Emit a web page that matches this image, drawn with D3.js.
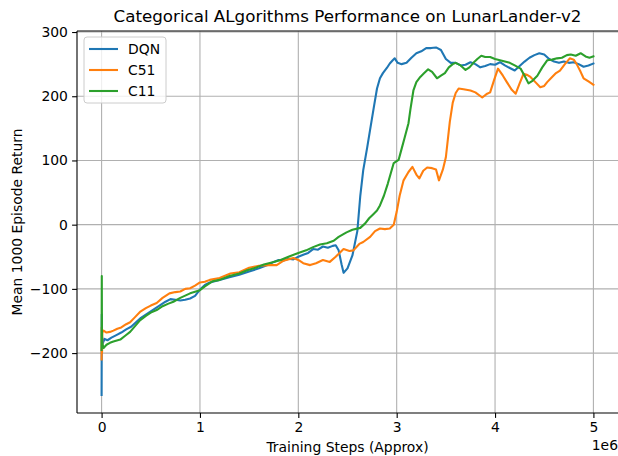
<!DOCTYPE html>
<html><head><meta charset="utf-8">
<script src="https://cdn.jsdelivr.net/npm/d3@7"></script>
<style>
body{margin:0;background:#fff;}
svg{display:block;font-family:"DejaVu Sans",sans-serif;}
</style></head><body>
<script>
const title = "Categorical ALgorithms Performance on LunarLander-v2";
const xLabel = "Training Steps (Approx)";
const yLabel = "Mean 1000 Episode Return";
const xTicks = [0,1,2,3,4,5];
const yTicks = [-200,-100,0,100,200,300];
const seriesNames = ["DQN","C51","C11"];
const seriesColors = ["#1f77b4","#ff7f0e","#2ca02c"];

const dqnSteps = [0,0.002,0.004,0.006,0.01,0.03,0.06,0.1,0.15,0.2,0.25,0.3,0.35,0.4,0.45,0.5,0.55,0.6,0.65,0.7,0.75,0.8,0.85,0.9,0.95,1.0,1.05,1.1,1.15,1.2,1.3,1.4,1.5,1.6,1.7,1.75,1.8,1.85,1.9,1.95,2.0,2.05,2.1,2.15,2.2,2.25,2.3,2.35,2.38,2.41,2.44,2.46,2.5,2.55,2.6,2.63,2.66,2.7,2.73,2.77,2.8,2.83,2.86,2.9,2.93,2.96,2.98,3.01,3.05,3.1,3.15,3.2,3.25,3.3,3.35,3.4,3.45,3.5,3.55,3.6,3.65,3.7,3.75,3.8,3.85,3.9,3.95,4.0,4.05,4.1,4.15,4.2,4.25,4.3,4.35,4.4,4.45,4.5,4.55,4.6,4.65,4.7,4.75,4.8,4.85,4.9,4.95,5.0];
const dqnValues = [-265,-140,-200,-175,-185,-178,-180,-176,-172,-168,-163,-159,-152,-145,-140,-135,-130,-125,-120,-116,-117,-118,-117,-115,-111,-101,-94,-90,-88,-86,-82,-78,-73,-68,-62,-58,-55,-56,-53,-54,-50,-47,-44,-38,-39,-34,-36,-33,-32,-40,-62,-75,-68,-48,-10,45,85,120,148,185,212,228,236,244,251,256,259,252,250,252,260,267,270,275,275,276,272,258,252,252,248,249,253,250,245,247,250,249,253,248,244,240,247,254,260,264,267,265,258,254,252,254,252,253,250,246,248,251];

const c51Steps = [0,0.002,0.004,0.008,0.02,0.05,0.085,0.12,0.16,0.2,0.25,0.29,0.34,0.39,0.45,0.5,0.56,0.62,0.69,0.75,0.8,0.85,0.9,0.95,1.0,1.05,1.1,1.2,1.31,1.4,1.5,1.6,1.7,1.78,1.85,1.95,2.0,2.05,2.12,2.18,2.25,2.32,2.38,2.46,2.52,2.56,2.62,2.66,2.73,2.78,2.83,2.88,2.93,2.97,3.0,3.03,3.07,3.12,3.16,3.2,3.23,3.27,3.31,3.36,3.4,3.43,3.47,3.5,3.54,3.57,3.6,3.63,3.68,3.75,3.8,3.87,3.92,3.95,3.99,4.03,4.08,4.12,4.17,4.21,4.25,4.29,4.33,4.36,4.41,4.46,4.5,4.53,4.58,4.62,4.66,4.71,4.76,4.8,4.83,4.87,4.9,4.95,5.0];
const c51Values = [-210,-160,-200,-168,-165,-168,-167,-165,-162,-160,-155,-152,-144,-136,-130,-126,-122,-114,-107,-105,-104,-100,-99,-95,-90,-89,-86,-83,-76,-74,-67,-64,-63,-63,-56,-52,-55,-60,-63,-60,-55,-58,-50,-38,-41,-40,-30,-27,-19,-10,-6,-7,-6,0,20,45,69,82,90,78,72,84,89,88,86,69,86,105,160,190,205,212,211,209,206,198,204,206,225,243,232,222,210,204,220,235,233,230,222,214,216,222,230,236,240,250,259,257,250,238,228,223,218];

const c11Steps = [0,0.002,0.004,0.008,0.02,0.05,0.085,0.12,0.19,0.24,0.29,0.34,0.39,0.45,0.5,0.56,0.62,0.68,0.73,0.8,0.9,1.0,1.05,1.1,1.13,1.2,1.3,1.4,1.48,1.55,1.65,1.75,1.82,1.9,2.0,2.08,2.15,2.22,2.29,2.36,2.41,2.49,2.55,2.63,2.68,2.72,2.76,2.8,2.83,2.87,2.91,2.94,2.97,3.0,3.02,3.05,3.08,3.12,3.14,3.17,3.2,3.24,3.28,3.32,3.36,3.41,3.45,3.49,3.53,3.57,3.6,3.65,3.7,3.74,3.78,3.82,3.86,3.9,3.95,4.0,4.05,4.1,4.15,4.2,4.26,4.3,4.34,4.38,4.43,4.48,4.53,4.58,4.63,4.68,4.73,4.77,4.82,4.87,4.92,4.96,5.0];
const c11Values = [-195,-80,-190,-185,-192,-187,-184,-182,-179,-173,-167,-158,-149,-142,-137,-133,-127,-123,-120,-114,-107,-102,-96,-91,-88,-86,-80,-76,-71,-68,-62,-58,-55,-50,-44,-40,-35,-31,-29,-25,-19,-12,-8,-5,2,10,16,22,30,45,64,80,96,99,101,118,135,158,180,209,222,230,236,242,238,228,232,236,245,250,252,248,241,245,252,258,263,261,261,258,256,254,252,248,243,232,220,224,232,245,256,257,259,260,264,265,263,267,262,260,262];

const W = 618, H = 456;
const L = 77, R = 618, T = 31, B = 413;
const svg = d3.select("body").append("svg").attr("width", W).attr("height", H);

const x = d3.scaleLinear().domain([-0.25, 5.25]).range([L, R]);
const y = d3.scaleLinear().domain([-293.3, 301.6]).range([B, T]);

// grid
const g = svg.append("g");
g.selectAll(".gx").data(xTicks).enter().append("line")
  .attr("x1", d => x(d)).attr("x2", d => x(d)).attr("y1", T).attr("y2", B)
  .attr("stroke", "#b0b0b0").attr("stroke-width", 1.1);
g.selectAll(".gy").data(yTicks).enter().append("line")
  .attr("x1", L).attr("x2", R).attr("y1", d => y(d)).attr("y2", d => y(d))
  .attr("stroke", "#b0b0b0").attr("stroke-width", 1.1);

// lines
const series = [
  {name: seriesNames[0], steps: dqnSteps, values: dqnValues, color: seriesColors[0]},
  {name: seriesNames[1], steps: c51Steps, values: c51Values, color: seriesColors[1]},
  {name: seriesNames[2], steps: c11Steps, values: c11Values, color: seriesColors[2]}
];
const line = d3.line().x(d => x(d[0])).y(d => y(d[1]));
svg.append("defs").append("clipPath").attr("id","clip").append("rect")
  .attr("x", L).attr("y", T).attr("width", R-L).attr("height", B-T);
const lg = svg.append("g").attr("clip-path","url(#clip)");
series.forEach(s => {
  lg.append("path").datum(s.steps.map((st,i) => [st, s.values[i]]))
    .attr("d", line).attr("fill","none").attr("stroke", s.color)
    .attr("stroke-width", 2.1).attr("stroke-linejoin","round").attr("stroke-linecap","square");
});

// axes
const fs = 13.9;
const xAxis = d3.axisBottom(x).tickValues(xTicks).tickSize(4.9).tickPadding(4.2).tickFormat(d3.format("d"));
const ax = svg.append("g").attr("transform", `translate(0,${B})`).call(xAxis);
const yAxis = d3.axisLeft(y).tickValues(yTicks).tickSize(4.9).tickPadding(4.2).tickFormat(d3.format("d"));
const ay = svg.append("g").attr("transform", `translate(${L},0)`).call(yAxis);
[ax, ay].forEach(a => {
  a.select(".domain").remove();
  a.selectAll(".tick line").attr("stroke","#000").attr("stroke-width",1.1);
  a.selectAll(".tick text").attr("font-size", fs).attr("fill","#000").attr("font-family","DejaVu Sans");
});
ay.selectAll(".tick text").text(d => d < 0 ? "\u2212" + Math.abs(d) : d);
// spines
svg.append("line").attr("x1",L).attr("x2",L).attr("y1",T).attr("y2",B).attr("stroke","#000").attr("stroke-width",1.1);
svg.append("line").attr("x1",L).attr("x2",R).attr("y1",B).attr("y2",B).attr("stroke","#000").attr("stroke-width",1.1);
svg.append("line").attr("x1",L).attr("x2",R).attr("y1",T).attr("y2",T).attr("stroke","#000").attr("stroke-width",1.1);

// labels
svg.append("text").attr("x", (L+R)/2).attr("y", 22).attr("text-anchor","middle")
  .attr("font-size", 16.7).text(title);
svg.append("text").attr("x", (L+R)/2).attr("y", 452).attr("text-anchor","middle")
  .attr("font-size", fs).text(xLabel);
svg.append("text").attr("transform", `translate(22,${(T+B)/2}) rotate(-90)`).attr("text-anchor","middle")
  .attr("font-size", fs).text(yLabel);
svg.append("text").attr("x", 618).attr("y", 450).attr("text-anchor","end")
  .attr("font-size", fs).text("1e6");

// legend
const leg = svg.append("g");
leg.append("rect").attr("x",84).attr("y",37).attr("width",82).attr("height",66).attr("rx",3)
  .attr("fill","#fff").attr("fill-opacity",0.8).attr("stroke","#cccccc").attr("stroke-width",1);
series.forEach((s,i) => {
  const yy = 49 + i*21;
  leg.append("line").attr("x1",89).attr("x2",118).attr("y1",yy).attr("y2",yy)
    .attr("stroke", s.color).attr("stroke-width",2.1);
  leg.append("text").attr("x",128).attr("y",yy+5).attr("font-size",fs).text(s.name);
});
</script>
</body></html>
